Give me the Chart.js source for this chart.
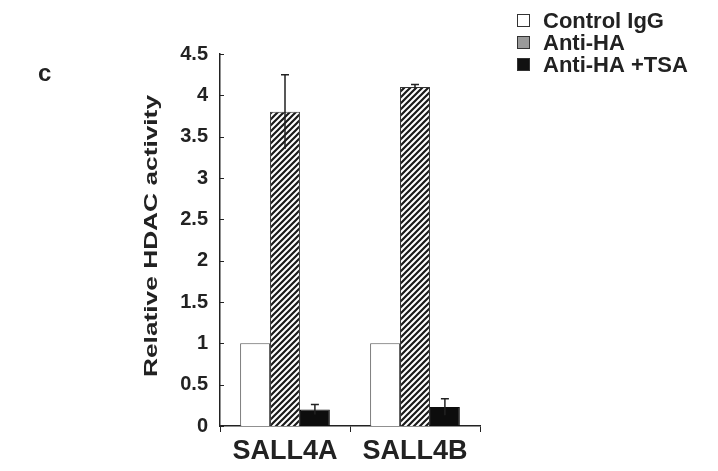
<!DOCTYPE html>
<html>
<head>
<meta charset="utf-8">
<script src="https://cdn.jsdelivr.net/npm/chart.js@4/dist/chart.umd.min.js"></script>
<style>
  html, body { margin: 0; padding: 0; background: #ffffff; }
  #wrap { width: 718px; height: 471px; position: relative; }
</style>
</head>
<body>
<div id="wrap"><canvas id="c" width="718" height="471"></canvas></div>
<script>
// Categories and measured values
const categories = ['SALL4A', 'SALL4B'];
const seriesLabels = ['Control IgG', 'Anti-HA', 'Anti-HA +TSA'];
const controlIgG = [1.0, 1.0];
const antiHA = [3.80, 4.10];
const antiHATSA = [0.20, 0.23];
// Standard deviations (error bars)
const controlErr = [0, 0];
const antiHAErr = [0.45, 0.03];
const antiHATSAErr = [0.06, 0.10];
const yTicks = [0, 0.5, 1, 1.5, 2, 2.5, 3, 3.5, 4, 4.5];
const yTickLabels = ['0', '0.5', '1', '1.5', '2', '2.5', '3', '3.5', '4', '4.5'];

const INK = '#222222';
const FONT = '"Liberation Sans", Arial, sans-serif';

// Diagonal "/" hatch fill
function makeHatch() {
  const s = 6;
  const p = document.createElement('canvas');
  p.width = s; p.height = s;
  const g = p.getContext('2d');
  g.fillStyle = '#ffffff';
  g.fillRect(0, 0, s, s);
  g.strokeStyle = '#1a1a1a';
  g.lineWidth = 2.2;
  g.beginPath();
  g.moveTo(-1, s + 1); g.lineTo(s + 1, -1);
  g.moveTo(-1, 1); g.lineTo(1, -1);
  g.moveTo(s - 1, s + 1); g.lineTo(s + 1, s - 1);
  g.stroke();
  return g.createPattern(p, 'repeat');
}
const hatch = makeHatch();

const legendSwatch = ['#ffffff', '#9a9a9a', '#111111'];

// Error bars, y-axis inner ticks, legend and annotations
const extras = {
  id: 'extras',
  afterDatasetsDraw(chart) {
    const ctx = chart.ctx;
    const y = chart.scales.y;
    const errs = [controlErr, antiHAErr, antiHATSAErr];
    ctx.save();
    ctx.strokeStyle = INK;
    ctx.lineWidth = 1.5;
    chart.data.datasets.forEach((ds, di) => {
      const meta = chart.getDatasetMeta(di);
      meta.data.forEach((bar, i) => {
        const e = errs[di][i];
        if (!e) return;
        const v = ds.data[i];
        const yt = y.getPixelForValue(v + e);
        const yb = y.getPixelForValue(v - e);
        ctx.beginPath();
        ctx.moveTo(bar.x, yb); ctx.lineTo(bar.x, yt);
        ctx.moveTo(bar.x - 4, yt); ctx.lineTo(bar.x + 4, yt);
        ctx.stroke();
      });
    });
    // inner tick marks on the y axis
    const left = chart.chartArea.left;
    ctx.lineWidth = 1;
    yTicks.forEach(t => {
      const py = Math.round(y.getPixelForValue(t)) + 0.5;
      ctx.beginPath();
      ctx.moveTo(left, py); ctx.lineTo(left + 4, py);
      ctx.stroke();
    });
    ctx.restore();
  },
  afterDraw(chart) {
    const ctx = chart.ctx;
    ctx.save();
    ctx.fillStyle = INK;
    // panel letter
    ctx.font = 'bold 24px ' + FONT;
    ctx.textBaseline = 'alphabetic';
    ctx.textAlign = 'left';
    ctx.fillText('c', 38, 81);
    // y axis title, drawn tall and narrow
    ctx.save();
    ctx.translate(152, 236);
    ctx.rotate(-Math.PI / 2);
    ctx.font = 'bold 18px ' + FONT;
    const title = 'Relative HDAC activity';
    const w = ctx.measureText(title).width;
    ctx.scale(282 / w, 1);
    ctx.textAlign = 'center';
    ctx.textBaseline = 'middle';
    ctx.fillText(title, 0, 0);
    ctx.restore();
    // legend
    ctx.font = 'bold 22px ' + FONT;
    ctx.textBaseline = 'middle';
    seriesLabels.forEach((lab, i) => {
      const cy = 21 + i * 22;
      ctx.fillStyle = legendSwatch[i];
      ctx.fillRect(517.5, cy - 6.5, 12, 12);
      ctx.strokeStyle = '#333333';
      ctx.lineWidth = 1;
      ctx.strokeRect(517.5, cy - 6.5, 12, 12);
      ctx.fillStyle = INK;
      ctx.fillText(lab, 543, cy + 1);
    });
    ctx.restore();
  }
};

new Chart(document.getElementById('c'), {
  type: 'bar',
  data: {
    labels: categories,
    datasets: [
      { label: seriesLabels[0], data: controlIgG, backgroundColor: '#ffffff', borderColor: '#555555', borderWidth: 1 },
      { label: seriesLabels[1], data: antiHA, backgroundColor: hatch, borderColor: '#333333', borderWidth: 1 },
      { label: seriesLabels[2], data: antiHATSA, backgroundColor: '#0d0d0d', borderColor: '#0d0d0d', borderWidth: 1 }
    ]
  },
  options: {
    responsive: false,
    animation: false,
    events: [],
    layout: { padding: { top: 54, right: 238, bottom: 0, left: 0 } },
    datasets: { bar: { categoryPercentage: 0.69, barPercentage: 1.0 } },
    plugins: { legend: { display: false }, tooltip: { enabled: false } },
    scales: {
      x: {
        afterFit(s) { s.height = 45; },
        grid: { offset: true, drawOnChartArea: false, tickLength: 6, color: INK, lineWidth: 1 },
        border: { display: true, color: INK, width: 1.5 },
        ticks: { color: INK, font: { family: FONT, size: 27, weight: 'bold' }, padding: 3 }
      },
      y: {
        min: 0, max: 4.5,
        afterFit(s) { s.width = 220; },
        afterBuildTicks(s) { s.ticks = yTicks.map(v => ({ value: v })); },
        grid: { display: false },
        border: { display: true, color: INK, width: 1.5 },
        ticks: {
          color: INK,
          font: { family: FONT, size: 20, weight: 'bold' },
          padding: 4,
          callback: (v, i) => yTickLabels[i]
        }
      }
    }
  },
  plugins: [extras]
});
</script>
</body>
</html>
